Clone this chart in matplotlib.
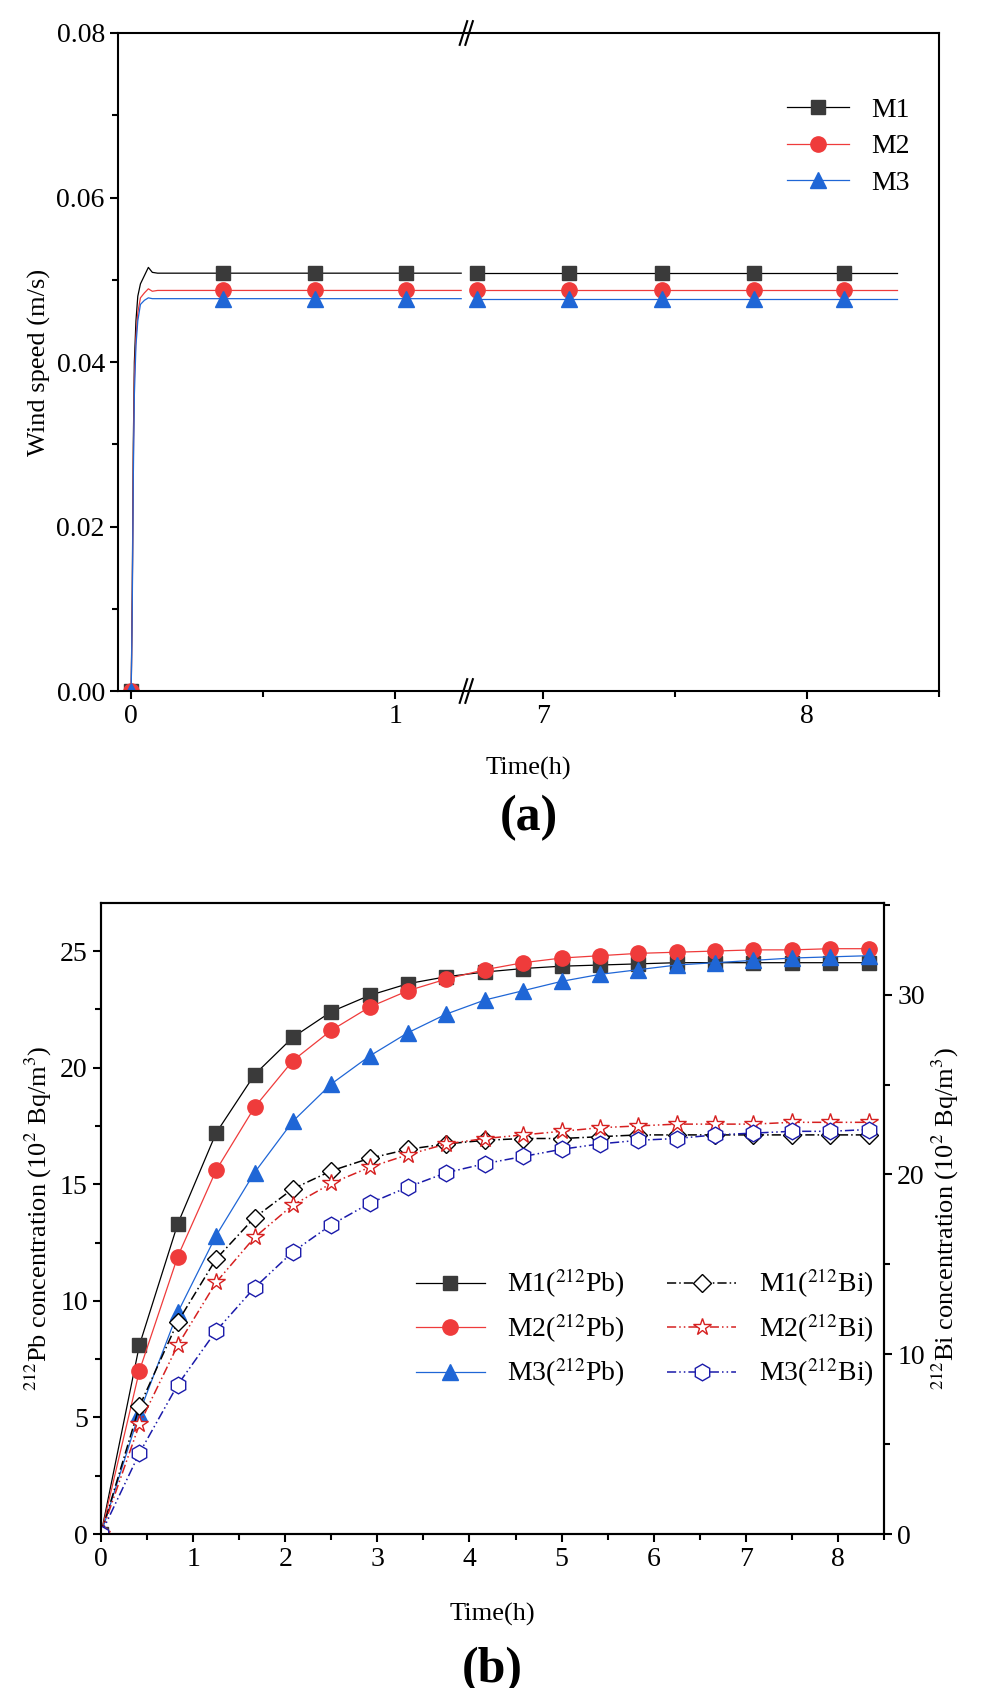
import matplotlib.pyplot as plt
import numpy as np

plt.rcParams['font.family'] = ['Liberation Serif', 'DejaVu Serif']
plt.rcParams['mathtext.fontset'] = 'stix'

# ---- panel (a): wind speed ----
t_rise = [0, 0.004, 0.008, 0.012, 0.018, 0.025, 0.035, 0.05, 0.065, 0.08, 0.1, 0.15, 0.3, 1.25]
m1_rise = [0, 0.012, 0.030, 0.040, 0.045, 0.048, 0.0495, 0.0505, 0.0515, 0.0509, 0.0508, 0.0508, 0.0508, 0.0508]
m2_rise = [0, 0.011, 0.028, 0.038, 0.043, 0.046, 0.0478, 0.0484, 0.0489, 0.0486, 0.0487, 0.0487, 0.0487, 0.0487]
m3_rise = [0, 0.010, 0.026, 0.036, 0.042, 0.045, 0.0470, 0.0475, 0.0478, 0.0477, 0.0477, 0.0477, 0.0477, 0.0477]
t_late = [6.75, 8.34]
m1_late = [0.0508, 0.0508]
m2_late = [0.0487, 0.0487]
m3_late = [0.0477, 0.0477]
t_mark_a = [0, 0.347, 0.695, 1.04, 6.75, 7.1, 7.45, 7.8, 8.14]
m1_mark = [0, 0.0508, 0.0508, 0.0508, 0.0508, 0.0508, 0.0508, 0.0508, 0.0508]
m2_mark = [0, 0.0487, 0.0487, 0.0487, 0.0487, 0.0487, 0.0487, 0.0487, 0.0487]
m3_mark = [0, 0.0477, 0.0477, 0.0477, 0.0477, 0.0477, 0.0477, 0.0477, 0.0477]

# ---- panel (b): concentrations ----
t_b = [0, 0.417, 0.833, 1.25, 1.667, 2.083, 2.5, 2.917, 3.333, 3.75, 4.167,
       4.583, 5.0, 5.417, 5.833, 6.25, 6.667, 7.083, 7.5, 7.917, 8.333]
pb_m1 = [0, 8.1, 13.3, 17.2, 19.7, 21.3, 22.4, 23.1, 23.6, 23.9, 24.1, 24.25, 24.35,
         24.4, 24.45, 24.5, 24.5, 24.5, 24.5, 24.5, 24.5]
pb_m2 = [0, 7.0, 11.9, 15.6, 18.3, 20.3, 21.6, 22.6, 23.3, 23.8, 24.2, 24.5, 24.7,
         24.8, 24.9, 24.95, 25.0, 25.05, 25.05, 25.1, 25.1]
pb_m3 = [0, 5.2, 9.5, 12.8, 15.5, 17.7, 19.3, 20.5, 21.5, 22.3, 22.9, 23.3, 23.7,
         24.0, 24.2, 24.4, 24.5, 24.6, 24.7, 24.75, 24.8]
bi_m1 = [0, 7.1, 11.8, 15.3, 17.6, 19.2, 20.2, 20.9, 21.4, 21.7, 21.9, 22.0, 22.0,
         22.1, 22.2, 22.2, 22.2, 22.2, 22.2, 22.2, 22.2]
bi_m2 = [0, 6.1, 10.5, 14.0, 16.5, 18.3, 19.5, 20.4, 21.1, 21.7, 22.0, 22.2, 22.4,
         22.6, 22.7, 22.8, 22.8, 22.8, 22.9, 22.9, 22.9]
bi_m3 = [0, 4.5, 8.3, 11.3, 13.7, 15.7, 17.2, 18.4, 19.3, 20.1, 20.6, 21.0, 21.4,
         21.7, 21.9, 22.0, 22.2, 22.3, 22.4, 22.4, 22.5]

C1, C2, C3 = '#3a3a3a', '#ef3b3b', '#1f66d6'

fig = plt.figure(figsize=(9.85, 16.88), dpi=100)
W, H = 985, 1688

def box(l, t, r, b):
    return [l / W, 1 - b / H, (r - l) / W, (b - t) / H]

# broken axis: left part and right part
xl = (-0.05, 1.28)
xr = (6.72, 8.5)
left, right, top, bot = 118, 939, 33, 691
split = left + (right - left) * (xl[1] - xl[0]) / ((xl[1] - xl[0]) + (xr[1] - xr[0]))
axL = fig.add_axes(box(left, top, split, bot))
axR = fig.add_axes(box(split, top, right, bot), sharey=axL)

for ax, tl, m1, m2, m3 in [(axL, t_rise, m1_rise, m2_rise, m3_rise),
                           (axR, t_late, m1_late, m2_late, m3_late)]:
    ax.plot(tl, m1, color='black', lw=0.9)
    ax.plot(tl, m2, color=C2, lw=0.9)
    ax.plot(tl, m3, color=C3, lw=0.9)
    ax.plot(t_mark_a, m1_mark, 's', color=C1, ms=10)
    ax.plot(t_mark_a, m2_mark, 'o', color=C2, ms=11)
    ax.plot(t_mark_a, m3_mark, '^', color=C3, ms=11)
    for s in ax.spines.values():
        s.set_linewidth(1.5)
    ax.tick_params(direction='out', width=1.5, length=6, labelsize=20)
    ax.tick_params(which='minor', direction='out', width=1.5, length=4)

axL.set_xlim(*xl)
axR.set_xlim(*xr)
axL.set_ylim(0, 0.08)
axL.set_yticks([0, 0.02, 0.04, 0.06, 0.08])
axL.set_yticklabels(['0.00', '0.02', '0.04', '0.06', '0.08'])
axL.set_yticks([0.01, 0.03, 0.05, 0.07], minor=True)
axL.set_xticks([0, 1])
axL.set_xticks([0.5], minor=True)
axR.set_xticks([7, 8])
axR.set_xticks([7.5, 8.5], minor=True)
axL.spines['right'].set_visible(False)
axR.spines['left'].set_visible(False)
axR.tick_params(axis='y', which='both', left=False, labelleft=False)
axL.set_ylabel('Wind speed (m/s)', fontsize=19)
fig.text(0.5 * (left + right) / W, 1 - 775 / H, 'Time(h)', ha='center', fontsize=19)
fig.text(0.5 * (left + right) / W, 1 - 830 / H, '(a)', ha='center', fontsize=36, fontweight='bold')

# break marks
for yy in (0, 1):
    for dx in (-0.012, 0.0):
        axR.plot([dx - 0.008, dx + 0.008], [yy - 0.018, yy + 0.018],
                 transform=axR.transAxes, color='black', lw=1.5, clip_on=False)

hl = [plt.Line2D([], [], color='black', lw=0.9, marker='s', mfc=C1, mec=C1, ms=10),
      plt.Line2D([], [], color=C2, lw=0.9, marker='o', mfc=C2, mec=C2, ms=11),
      plt.Line2D([], [], color=C3, lw=0.9, marker='^', mfc=C3, mec=C3, ms=11)]
axR.legend(hl, ['M1', 'M2', 'M3'], loc='upper right', bbox_to_anchor=(0.99, 0.94),
           frameon=False, fontsize=20, handlelength=2.2, labelspacing=0.4)

# ---- panel (b) ----
axB = fig.add_axes(box(101, 903, 884, 1534))
axB2 = axB.twinx()
axB.plot(t_b, pb_m1, '-s', color='black', mfc=C1, mec=C1, lw=0.9, ms=10)
axB.plot(t_b, pb_m2, '-o', color=C2, mfc=C2, mec=C2, lw=0.9, ms=11)
axB.plot(t_b, pb_m3, '-^', color=C3, mfc=C3, mec=C3, lw=0.9, ms=11)
axB2.plot(t_b, bi_m1, marker='D', ls=(0, (6, 2, 1, 2)), color='black', mfc='white', lw=1.1, ms=9)
axB2.plot(t_b, bi_m2, marker='*', ls=(0, (6, 2, 1, 2, 1, 2)), color='#d62020', mfc='white', lw=1.1, ms=13)
axB2.plot(t_b, bi_m3, marker='h', ls=(0, (6, 2, 1, 2, 1, 2)), color='#1a1aaa', mfc='white', lw=1.1, ms=12)

axB.set_xlim(0, 8.5)
axB.set_ylim(0, 27.06)
axB2.set_ylim(0, 35.1)
axB.set_xticks(range(0, 9))
axB.set_xticks(np.arange(0.5, 8.6, 1.0), minor=True)
axB.set_yticks([0, 5, 10, 15, 20, 25])
axB.set_yticks([2.5, 7.5, 12.5, 17.5, 22.5], minor=True)
axB2.set_yticks([0, 10, 20, 30])
axB2.set_yticks([5, 15, 25, 35], minor=True)
for ax in (axB, axB2):
    for s in ax.spines.values():
        s.set_linewidth(1.5)
    ax.tick_params(direction='out', width=1.5, length=6, labelsize=20)
    ax.tick_params(which='minor', direction='out', width=1.5, length=4)
axB.set_xlabel('Time(h)', fontsize=19, labelpad=22)
axB.set_ylabel(r'$^{212}$Pb concentration (10$^{2}$ Bq/m$^{3}$)', fontsize=19)
axB2.set_ylabel(r'$^{212}$Bi concentration (10$^{2}$ Bq/m$^{3}$)', fontsize=19)
fig.text((101 + 884) / 2 / W, 1 - 1682 / H, '(b)', ha='center', fontsize=36, fontweight='bold')

h1 = axB.get_lines()
h2 = axB2.get_lines()
labels = [r'M1($^{212}$Pb)', r'M2($^{212}$Pb)', r'M3($^{212}$Pb)',
          r'M1($^{212}$Bi)', r'M2($^{212}$Bi)', r'M3($^{212}$Bi)']
axB.legend(list(h1) + list(h2), labels, loc='lower left', bbox_to_anchor=(0.37, 0.19),
           ncol=2, frameon=False, fontsize=20, handlelength=2.5, columnspacing=1.5,
           labelspacing=0.4)

fig.savefig('out.png', dpi=100)
